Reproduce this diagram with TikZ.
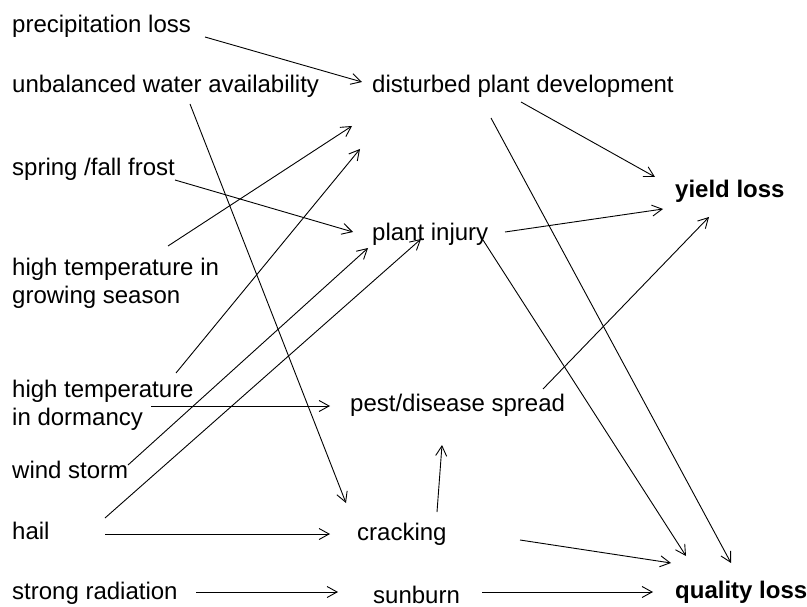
\documentclass[tikz,border=0pt]{standalone}
\usepackage{fontspec}
\setmainfont{Liberation Sans}
\usetikzlibrary{arrows.meta}
\begin{document}
\begin{tikzpicture}[x=1pt,y=-1pt,
  lbl/.style={anchor=base west,inner sep=0pt,font=\fontsize{24}{28}\selectfont,align=left},
  bld/.style={lbl,font=\fontsize{24}{28}\selectfont\bfseries},
  arr/.style={-{Straight Barb[length=10pt,width=11pt]},line width=0.9pt}]
\useasboundingbox[fill=white] (0,0) rectangle (807,607);

% causes
\node[lbl] (precip) at (12,33) {precipitation loss};
\node[lbl] (water) at (12,93) {unbalanced water availability};
\node[lbl] (frost) at (12,176) {spring /fall frost};
\node[lbl] (hotgrow) at (12,303) {high temperature in\\growing season};
\node[lbl] (hotdorm) at (12,425) {high temperature\\in dormancy};
\node[lbl] (wind) at (12,478) {wind storm};
\node[lbl] (hail) at (12,539) {hail};
\node[lbl] (rad) at (12,599) {strong radiation};

% effects
\node[lbl] (dist) at (372,93) {disturbed plant development};
\node[lbl] (injury) at (372,241) {plant injury};
\node[lbl] (pest) at (350,411) {pest/disease spread};
\node[lbl] (crack) at (357,540) {cracking};
\node[lbl] (sun) at (373,603) {sunburn};

% losses
\node[bld] (yield) at (675,198) {yield loss};
\node[bld] (quality) at (675,598) {quality loss};

% connector end points
\coordinate (precip-o) at (205,37);
\coordinate (dist-i1) at (362,82);
\coordinate (water-o) at (190,104);
\coordinate (crack-i1) at (346,503);
\coordinate (frost-o) at (175,180);
\coordinate (injury-i1) at (353,232);
\coordinate (hotgrow-o) at (168,246);
\coordinate (dist-i2) at (352,126);
\coordinate (hotdorm-o1) at (176,373);
\coordinate (dist-i3) at (360,149);
\coordinate (hotdorm-o2) at (151,406);
\coordinate (pest-i1) at (330,406);
\coordinate (wind-o) at (128,465);
\coordinate (injury-i2) at (368,248);
\coordinate (hail-o1) at (105,518);
\coordinate (injury-i3) at (421,239);
\coordinate (hail-o2) at (105,534);
\coordinate (crack-i2) at (330,534);
\coordinate (rad-o) at (196,592);
\coordinate (sun-i) at (338,592);
\coordinate (crack-o1) at (437,512);
\coordinate (pest-i2) at (442,445);
\coordinate (crack-o2) at (520,540);
\coordinate (quality-i1) at (671,563);
\coordinate (sun-o) at (482,592);
\coordinate (quality-i2) at (653,592);
\coordinate (dist-o1) at (521,102);
\coordinate (yield-i1) at (655,177);
\coordinate (dist-o2) at (491,118);
\coordinate (quality-i3) at (731,563);
\coordinate (injury-o1) at (505,232);
\coordinate (yield-i2) at (663,209);
\coordinate (injury-o2) at (483,240);
\coordinate (quality-i4) at (686,556);
\coordinate (pest-o) at (543,389);
\coordinate (yield-i3) at (709,217);

% connectors
\draw[arr] (precip-o) -- (dist-i1);
\draw[arr] (water-o) -- (crack-i1);
\draw[arr] (frost-o) -- (injury-i1);
\draw[arr] (hotgrow-o) -- (dist-i2);
\draw[arr] (hotdorm-o1) -- (dist-i3);
\draw[arr] (hotdorm-o2) -- (pest-i1);
\draw[arr] (wind-o) -- (injury-i2);
\draw[arr] (hail-o1) -- (injury-i3);
\draw[arr] (hail-o2) -- (crack-i2);
\draw[arr] (rad-o) -- (sun-i);
\draw[arr] (crack-o1) -- (pest-i2);
\draw[arr] (crack-o2) -- (quality-i1);
\draw[arr] (sun-o) -- (quality-i2);
\draw[arr] (dist-o1) -- (yield-i1);
\draw[arr] (dist-o2) -- (quality-i3);
\draw[arr] (injury-o1) -- (yield-i2);
\draw[arr] (injury-o2) -- (quality-i4);
\draw[arr] (pest-o) -- (yield-i3);
\end{tikzpicture}
\end{document}
